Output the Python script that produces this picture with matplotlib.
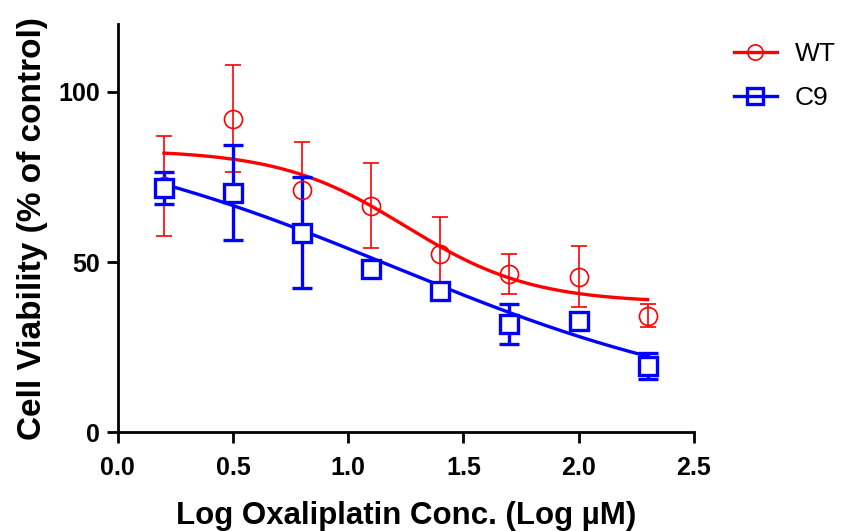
import numpy as np
import matplotlib
matplotlib.use('Agg')
from matplotlib import pyplot as plt
from matplotlib.lines import Line2D

plt.rcParams['font.family'] = ['Liberation Sans', 'DejaVu Sans']

# log dose (log uM)
log_conc = [0.2, 0.5, 0.8, 1.1, 1.4, 1.7, 2.0, 2.3]

# WT: mean and SD
wt_mean = [72.4, 92.1, 71.2, 66.5, 52.3, 46.5, 45.7, 34.3]
wt_err = [14.7, 15.7, 14.0, 12.5, 11.0, 6.0, 9.0, 3.3]
# C9: mean and SD (0 = bar hidden behind symbol)
c9_mean = [71.7, 70.4, 58.6, 47.9, 41.5, 31.8, 32.7, 19.4]
c9_err = [4.7, 14.0, 16.3, 0, 0, 6.0, 0, 3.8]

# four-parameter logistic fits (top, bottom, logEC50, hill)
wt_fit = (83.0, 38.0, 1.25, 1.58)
c9_fit = (92.0, 5.0, 1.2, 0.55)

def logistic(x, top, bottom, logec50, hill):
  return bottom + (top - bottom) / (1 + 10 ** ((x - logec50) * hill))

fig = plt.figure(figsize=(8.48, 5.31), dpi=100)
ax = fig.add_axes([0.139, 0.186, 0.679, 0.769])

xs = np.linspace(log_conc[0], log_conc[-1], 200)
red = '#ff0000'
blue = '#0000ff'

ax.plot(xs, logistic(xs, *wt_fit), color=red, lw=2.4, zorder=3)
ax.plot(xs, logistic(xs, *c9_fit), color=blue, lw=2.4, zorder=3)

ax.errorbar(log_conc, wt_mean, yerr=wt_err, fmt='o', color=red, mfc='none',
            mec=red, ms=13, mew=1.2, elinewidth=1.2, capsize=6, capthick=1.2, zorder=4)

# C9: bars only where they stick out of the symbol
bx = [x for x, e in zip(log_conc, c9_err) if e > 0]
by = [y for y, e in zip(c9_mean, c9_err) if e > 0]
be = [e for e in c9_err if e > 0]
ax.errorbar(bx, by, yerr=be, fmt='none', ecolor=blue, elinewidth=2.4,
            capsize=7, capthick=2.4, zorder=4)
ax.plot(log_conc, c9_mean, 's', mfc='white', mec=blue, ms=13, mew=2.4, zorder=5)

ax.set_xlim(0, 2.5)
ax.set_ylim(0, 120)
ax.set_xticks([0.0, 0.5, 1.0, 1.5, 2.0, 2.5])
ax.set_xticklabels(['0.0', '0.5', '1.0', '1.5', '2.0', '2.5'])
ax.set_yticks([0, 50, 100])

for s in ['top', 'right']:
  ax.spines[s].set_visible(False)
for s in ['left', 'bottom']:
  ax.spines[s].set_linewidth(2)
ax.tick_params(width=2, length=8, labelsize=18, pad=5)
ax.tick_params(axis='x', pad=9)
for lab in ax.get_xticklabels() + ax.get_yticklabels():
  lab.set_fontweight('bold')

ax.set_xlabel('Log Oxaliplatin Conc. (Log \u00b5M)', fontsize=22.5, fontweight='bold', labelpad=15)
ax.set_ylabel('Cell Viability (% of control)', fontsize=24, fontweight='bold', labelpad=7)

handles = [
  Line2D([], [], color=red, lw=2.4, marker='o', ms=11, mfc='none', mec=red, mew=1.2),
  Line2D([], [], color=blue, lw=2.4, marker='s', ms=11, mfc='none', mec=blue, mew=2.4),
]
fig.legend(handles, ['WT', 'C9'], loc='upper left', bbox_to_anchor=(0.838, 0.965),
           frameon=False, fontsize=19, handlelength=1.6, labelspacing=0.75, handletextpad=0.7)

fig.savefig('out.png', dpi=100)
